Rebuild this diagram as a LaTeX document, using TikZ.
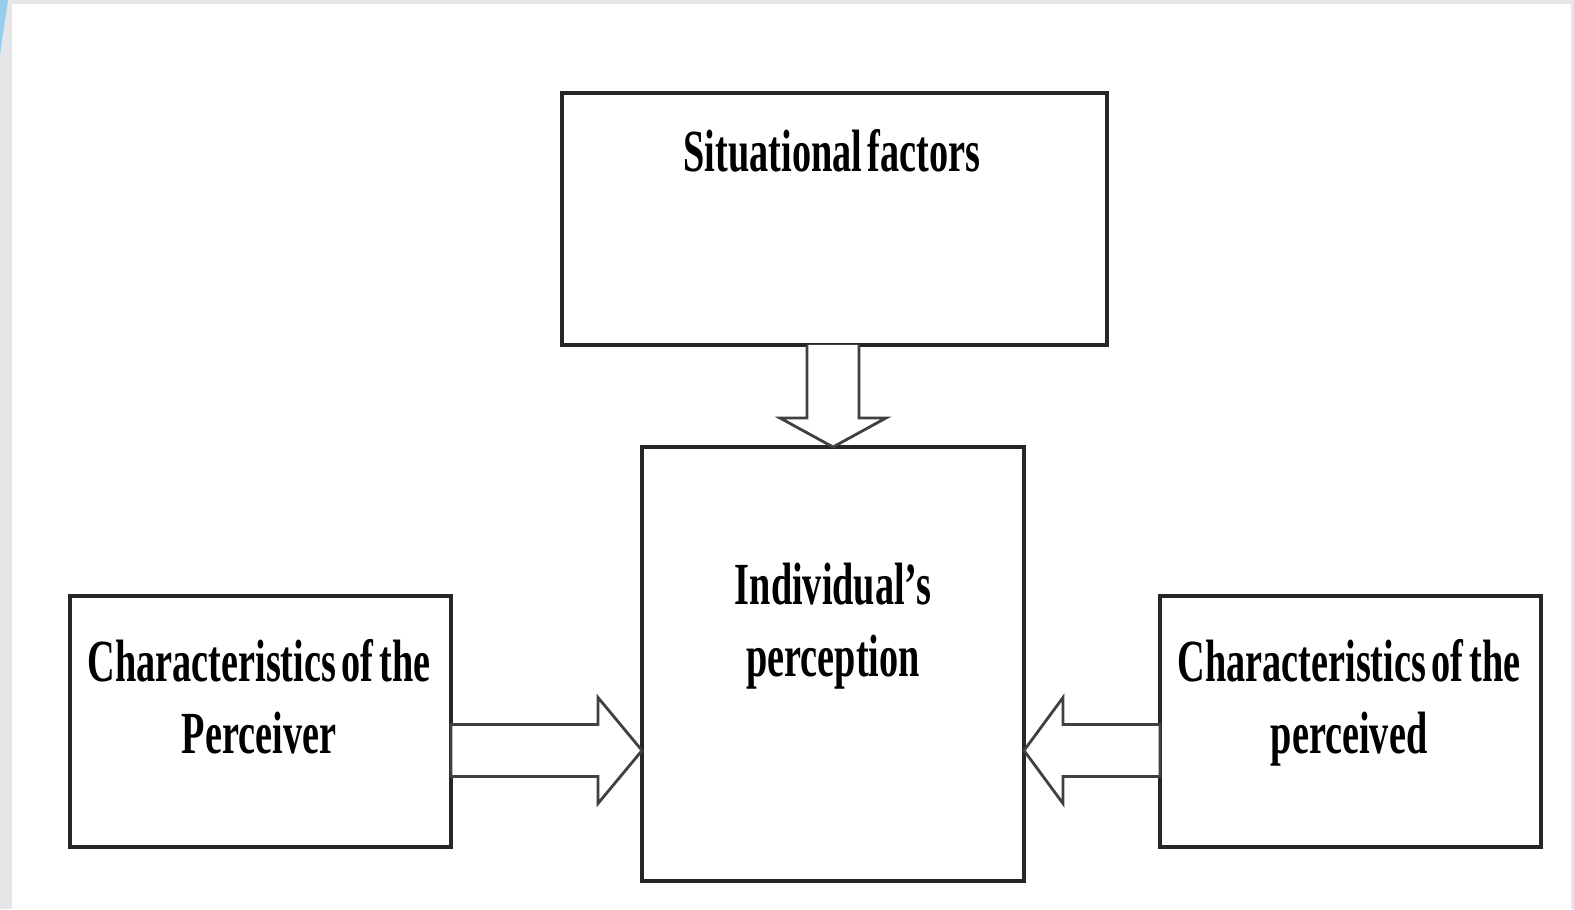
\documentclass[tikz,border=0pt]{standalone}
\usepackage{fontspec}
\newfontfamily\boxfont{Liberation Serif}[FakeStretch=0.64, WordSpace=0.6]
\usetikzlibrary{calc}
\definecolor{framegray}{RGB}{230,229,232}
\definecolor{sliver}{RGB}{150,205,238}
\tikzset{
  box/.style = {rectangle, draw=black!85, line width=0.9pt,
                inner sep=0pt, outer sep=0pt},
  boxtext/.style = {align=center, inner sep=0pt, anchor=north,
                font=\boxfont\bfseries\fontsize{17}{20.5}\selectfont},
  blockarrow/.style = {draw=black!75, line width=0.8pt, fill=white,
                line join=miter}
}

\begin{document}
\begin{tikzpicture}[x=1cm,y=1cm]
	\def \W{15.74}
	\def \H{9.09}
	\def \shaft{0.26} % half width of the arrow body
	\def \head{0.53}  % half width of the arrow head
	
	% Page
	\fill[framegray] (0,0) rectangle (\W,\H);
	\fill[white] (0.12,0) rectangle (15.71,9.05);
	\fill[sliver] (0,\H) -- (0.08,\H) -- (0,8.55) -- cycle;
	\useasboundingbox (0,0) rectangle (\W,\H);
	
	% Boxes
	\node[box, minimum width=5.45cm, minimum height=2.52cm] (sit) at (8.345,6.90) {};
	\node[box, minimum width=3.82cm, minimum height=4.34cm] (perc) at (8.33,2.45) {};
	\node[box, minimum width=3.81cm, minimum height=2.51cm] (perceiver) at (2.605,1.875) {};
	\node[box, minimum width=3.81cm, minimum height=2.51cm] (perceived) at (13.505,1.875) {};
	
	% Texts
	\node[boxtext] (sitText) at (8.32,7.80) {Situational factors};
	\node[boxtext] (percText) at (8.33,3.47) {Individual’s\\perception};
	\node[boxtext] (perceiverText) at (2.59,2.70) {Characteristics of the\\Perceiver};
	\node[boxtext] (perceivedText) at (13.49,2.70) {Characteristics of the\\perceived};
	
	% Arrow from the situation
	\coordinate (topStart) at (perc.north |- sit.south);
	\draw[blockarrow] ($(topStart)+(-\shaft,0)$) -- ($(perc.north)+(-\shaft,0.29)$)
		-- ($(perc.north)+(-\head,0.29)$) -- (perc.north) -- ($(perc.north)+(\head,0.29)$)
		-- ($(perc.north)+(\shaft,0.29)$) -- ($(topStart)+(\shaft,0)$);
	
	% Arrow from the perceiver
	\coordinate (leftStart) at (perceiver.east |- 0,1.585);
	\coordinate (leftTip) at (perc.west |- 0,1.585);
	\draw[blockarrow] ($(leftStart)+(0,\shaft)$) -- ($(leftTip)+(-0.44,\shaft)$)
		-- ($(leftTip)+(-0.44,\head)$) -- (leftTip) -- ($(leftTip)+(-0.44,-\head)$)
		-- ($(leftTip)+(-0.44,-\shaft)$) -- ($(leftStart)+(0,-\shaft)$) -- cycle;
	
	% Arrow from the perceived
	\coordinate (rightStart) at (perceived.west |- 0,1.585);
	\coordinate (rightTip) at (perc.east |- 0,1.585);
	\draw[blockarrow] ($(rightStart)+(0,\shaft)$) -- ($(rightTip)+(0.39,\shaft)$)
		-- ($(rightTip)+(0.39,\head)$) -- (rightTip) -- ($(rightTip)+(0.39,-\head)$)
		-- ($(rightTip)+(0.39,-\shaft)$) -- ($(rightStart)+(0,-\shaft)$) -- cycle;
	
\end{tikzpicture}
\end{document}
